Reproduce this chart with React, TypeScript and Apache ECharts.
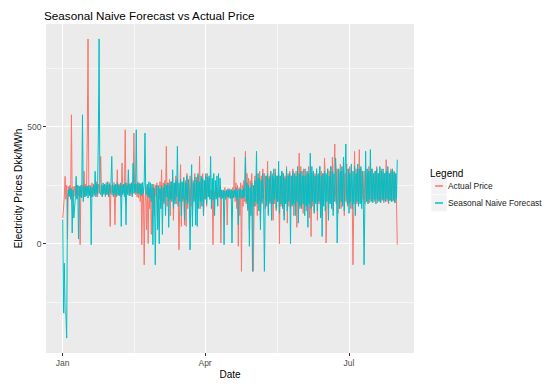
import React, { useEffect, useRef } from "react";
import * as echarts from "echarts";

// Two readings per day (x step = half a day), day 0 = 1 Jan.
const actualJan = [
  110, 152, 200, 288, 190, 250, 20, 245, 200, 250, 195, 551, 180, 245, 200, 245,
  205, 248, 195, 250, 205, 245, -4, 240, 200, 250, 210, 310, 200, 255, 215, 444,
  875, 220, 210, 250, 200, 260, 215, 255, 205, 250, 210, 265, 200, 255, 215, 258,
  373, 220, 205, 250, 210, 255, 200, 262, 210, 250, 205, 260, 74, 250,
];
const actualFeb = [
  210, 255, 200, 262, 81, 250, 210, 316, 205, 255, 215, 258, 200, 345, 215, 255,
  220, 487, 215, 260, 215, 255, 210, 258, 205, 262, 215, 255, 473, 220, 210, 255,
  200, 265, 195, 260, 180, 255, -4, 240, 230, -90, 170, 250, 60, 245, 0, 235,
  150, 250, 40, 240, 180, 255, 120, 250,
];
const actualMar = [
  200, 260, 70, 250, 190, 265, 180, 316, 150, 260, 170, 270, 200, 416, 160, 260,
  180, 275, 120, 265, 190, 280, 100, 260, 185, 290, 170, 275, 200, -26, 190, 338,
  74, 260, 180, 285, 80, 270, 74, 300, 150, 265, 180, 290, 160, 280, 120, 270,
  190, 300, 170, 285, 200, 290, 190, 373, 150, 280, 185, 300, 120, 270,
];
const actualApr = [
  190, 290, 160, 300, 200, 280, 190, 230, 195, 228, -4, 225, 190, 230, 200, 235,
  195, 228, 198, 232, 3, 225, 195, 230, 200, 240, 190, 228, 80, 232, 198, 235,
  192, 230, 195, 240, 200, 370, 180, 260, 150, 250, -11, 240, 120, 260, -118, 250,
  160, 270, 180, 395, 170, 300, 140, 280, 60, 270, 180, 300,
];
const actualMay = [
  190, -118, 170, 290, 160, 300, 120, 280, 180, 310, 100, 290, 170, 320, 190, 300,
  150, 290, 180, 352, 130, 290, 170, 310, 150, 300, 100, 280, 170, 320, 140, 290,
  180, 300, 0, 290, 160, 310, 170, 300, 120, 290, 180, 330, 88, 300, 160, 310,
  150, 290, 170, 320, 120, 290, 160, 310, 70, 300, 170, 387, 150, 330,
];
const actualJun = [
  180, 310, 130, 290, 170, 320, 140, 300, 180, 330, 110, 290, 31, 300, 160, 310,
  140, 300, 180, 320, 100, 290, 170, 330, 150, 310, 120, 300, 180, 366, 290, 3,
  170, 320, 150, 310, 180, 330, 160, 370, 140, 320, 426, 200, 170, 320, 130, 300,
  180, 340, 150, 310, 170, 330, 120, 300, 180, 340, 160, 320,
];
const actualJul = [
  170, 330, 150, 310, 200, -90, 160, 395, 180, 320, 170, 310, 190, 402, 180, 320,
  175, 300, 190, 310, 170, 320, 185, 300, 180, 330, 175, 310, 190, 320, 185, 300,
  180, 310, 190, 330, 175, 300, 185, 310, 180, 320, 185, 305, 175, 300, 190, 359,
  180, 310, 170, 300, 185, 320, 180, 300, 185, 310, 175, 300, 190, -4,
];

const forecastJan = [
  103, -296, -83, -296, -300, -403, 180, 230, 205, 240, 190, 236, 46, 228,
  110, 152, 200, 288, 190, 250, 20, 245, 200, 250, 195, 551, 180, 245, 200, 245,
  205, 248, 195, 250, 205, 245, -4, 240, 200, 250, 210, 310, 200, 255, 215, 444,
  875, 220, 210, 250, 200, 260, 215, 255, 205, 250, 210, 265, 200, 255, 215, 258,
];
const forecastFeb = [
  373, 220, 205, 250, 210, 255, 200, 262, 210, 250, 205, 260, 74, 250,
  210, 255, 200, 262, 81, 250, 210, 316, 205, 255, 215, 258, 200, 345, 215, 255,
  220, 487, 215, 260, 215, 255, 210, 258, 205, 262, 215, 255, 473, 220, 210, 255,
  200, 265, 195, 260, 180, 255, -4, 240, 230, -90,
];
const forecastMar = [
  170, 250, 60, 245, 0, 235, 150, 250, 40, 240, 180, 255, 120, 250,
  200, 260, 70, 250, 190, 265, 180, 316, 150, 260, 170, 270, 200, 416, 160, 260,
  180, 275, 120, 265, 190, 280, 100, 260, 185, 290, 170, 275, 200, -26, 190, 338,
  74, 260, 180, 285, 80, 270, 74, 300, 150, 265, 180, 290, 160, 280, 120, 270,
];
const forecastApr = [
  190, 300, 170, 285, 200, 290, 190, 373, 150, 280, 185, 300, 120, 270,
  190, 290, 160, 300, 200, 280, 190, 230, 195, 228, -4, 225, 190, 230, 200, 235,
  195, 228, 198, 232, 3, 225, 195, 230, 200, 240, 190, 228, 80, 232, 198, 235,
  192, 230, 195, 240, 200, 370, 180, 260, 150, 250, -11, 240, 120, 260,
];
const forecastMay = [
  -118, 250, 160, 270, 180, 395, 170, 300, 140, 280, 60, 270, 180, 300,
  190, -118, 170, 290, 160, 300, 120, 280, 180, 310, 100, 290, 170, 320, 190, 300,
  150, 290, 180, 352, 130, 290, 170, 310, 150, 300, 100, 280, 170, 320, 140, 290,
  180, 300, 0, 290, 160, 310, 170, 300, 120, 290, 180, 330, 88, 300, 160, 310,
];
const forecastJun = [
  150, 290, 170, 320, 120, 290, 160, 310, 70, 300, 170, 387, 150, 330,
  180, 310, 130, 290, 170, 320, 140, 300, 180, 330, 110, 290, 31, 300, 160, 310,
  140, 300, 180, 320, 100, 290, 170, 330, 150, 310, 120, 300, 180, 366, 290, 3,
  170, 320, 150, 310, 180, 330, 160, 370, 140, 320, 426, 200, 170, 320,
];
const forecastJul = [
  130, 300, 180, 340, 150, 310, 170, 330, 120, 300, 180, 340, 160, 320,
  170, 330, 150, 310, 200, -90, 160, 395, 180, 320, 170, 310, 190, 402, 180, 320,
  175, 300, 190, 310, 170, 320, 185, 300, 180, 330, 175, 310, 190, 320, 185, 300,
  180, 310, 190, 330, 175, 300, 185, 310, 180, 320, 185, 305, 175, 300, 190, 359,
];

const seriesNames = ["Actual Price", "Seasonal Naive Forecast"];
const seriesColors = ["#F8766D", "#00BFC4"];
const xTickDays = [0, 90, 181];
const xTickLabels = ["Jan", "Apr", "Jul"];
const xMinorDays = [45, 135.5];
const yTicks = [0, 500];
const yMinor = [-250, 250, 750];
const STEP = 0.5; // days between readings

const actual = [
  ...actualJan, ...actualFeb, ...actualMar, ...actualApr, ...actualMay, ...actualJun, ...actualJul,
];
const forecast = [
  ...forecastJan, ...forecastFeb, ...forecastMar, ...forecastApr, ...forecastMay, ...forecastJun, ...forecastJul,
];

const FONT = "'Liberation Sans', Arial, sans-serif";

export default function App() {
  const ref = useRef<HTMLDivElement>(null);
  useEffect(() => {
    if (!ref.current) return;
    const chart = echarts.init(ref.current, undefined, { renderer: "svg" });
    const toPts = (vals: number[]) => vals.map((v, i) => [i * STEP, v]);
    const lastX = (actual.length - 1) * STEP;
    const xMin = -0.05 * lastX;
    const xMax = lastX * 1.05;
    const all = [...actual, ...forecast];
    const lo = Math.min(...all);
    const hi = Math.max(...all);
    const yMin = lo - 0.05 * (hi - lo);
    const yMax = hi + 0.05 * (hi - lo);

    const noLine = { show: false, onZero: false };

    chart.setOption({
      animation: false,
      backgroundColor: "#FFFFFF",
      textStyle: { fontFamily: FONT },
      title: [
        {
          text: "Seasonal Naive Forecast vs Actual Price",
          left: 44,
          top: 9,
          padding: 0,
          textStyle: { fontFamily: FONT, fontSize: 11.7, fontWeight: "normal", color: "#000" },
        },
        {
          text: "Legend",
          left: 430,
          top: 168,
          padding: 0,
          textStyle: { fontFamily: FONT, fontSize: 10, fontWeight: "normal", color: "#000" },
        },
      ],
      grid: {
        left: 46,
        right: 136,
        top: 24,
        bottom: 36,
        show: true,
        backgroundColor: "#EBEBEB",
        borderWidth: 0,
        outerBoundsMode: "none",
        containLabel: false,
      },
      legend: {
        orient: "vertical",
        left: 435,
        top: 177.5,
        padding: 0,
        itemGap: 0,
        itemWidth: 8,
        itemHeight: 1.5,
        icon: "rect",
        selectedMode: false,
        z: 10,
        data: seriesNames,
        textStyle: { fontFamily: FONT, fontSize: 8.4, lineHeight: 17, color: "#1A1A1A" },
      },
      graphic: [
        { type: "rect", z: 0, shape: { x: 431, y: 177.5, width: 16, height: 17 }, style: { fill: "#F2F2F2", stroke: "#FFFFFF", lineWidth: 0.5 } },
        { type: "rect", z: 0, shape: { x: 431, y: 194.5, width: 16, height: 17 }, style: { fill: "#F2F2F2", stroke: "#FFFFFF", lineWidth: 0.5 } },
      ],
      xAxis: [
        {
          type: "value",
          min: xMin,
          max: xMax,
          name: "Date",
          nameLocation: "middle",
          nameGap: 16,
          nameMoveOverlap: false,
          nameTextStyle: { fontFamily: FONT, fontSize: 10, color: "#000" },
          axisLine: noLine,
          axisTick: { show: true, length: 3, lineStyle: { color: "#333333", width: 1 }, customValues: xTickDays },
          axisLabel: {
            customValues: xTickDays,
            formatter: (v: number) => {
              const i = xTickDays.indexOf(v);
              return i >= 0 ? xTickLabels[i] : "";
            },
            color: "#4D4D4D",
            fontFamily: FONT,
            fontSize: 8.5,
            margin: 5,
          },
          splitLine: { show: true, lineStyle: { color: "#FFFFFF", width: 1.1 } },
        },
        {
          type: "value",
          min: xMin,
          max: xMax,
          axisLine: noLine,
          axisLabel: { show: false },
          axisTick: { show: false, customValues: xMinorDays },
          splitLine: { show: true, lineStyle: { color: "#FFFFFF", width: 0.55 } },
        },
      ],
      yAxis: [
        {
          type: "value",
          min: yMin,
          max: yMax,
          name: "Electricity Prices Dkk/MWh",
          nameLocation: "middle",
          nameGap: 23,
          nameMoveOverlap: false,
          nameTextStyle: { fontFamily: FONT, fontSize: 10, color: "#000" },
          axisLine: noLine,
          axisTick: { show: true, length: 3, lineStyle: { color: "#333333", width: 1 }, customValues: yTicks },
          axisLabel: {
            customValues: yTicks,
            color: "#4D4D4D",
            fontFamily: FONT,
            fontSize: 8.5,
            margin: 4.5,
          },
          splitLine: { show: true, lineStyle: { color: "#FFFFFF", width: 1.1 } },
        },
        {
          type: "value",
          min: yMin,
          max: yMax,
          position: "left",
          axisLine: noLine,
          axisLabel: { show: false },
          axisTick: { show: false, customValues: yMinor },
          splitLine: { show: true, lineStyle: { color: "#FFFFFF", width: 0.55 } },
        },
      ],
      series: [
        {
          name: seriesNames[0],
          type: "line",
          xAxisIndex: 0,
          yAxisIndex: 0,
          data: toPts(actual),
          color: seriesColors[0],
          symbol: "none",
          showSymbol: false,
          lineStyle: { width: 1, color: seriesColors[0] },
          z: 3,
        },
        {
          name: seriesNames[1],
          type: "line",
          xAxisIndex: 0,
          yAxisIndex: 0,
          data: toPts(forecast),
          color: seriesColors[1],
          symbol: "none",
          showSymbol: false,
          lineStyle: { width: 1, color: seriesColors[1] },
          z: 4,
        },
      ],
    });
    return () => chart.dispose();
  }, []);
  return (
    <div
      ref={ref}
      style={{ position: "fixed", left: 0, top: 0, width: 550, height: 389 }}
    />
  );
}
